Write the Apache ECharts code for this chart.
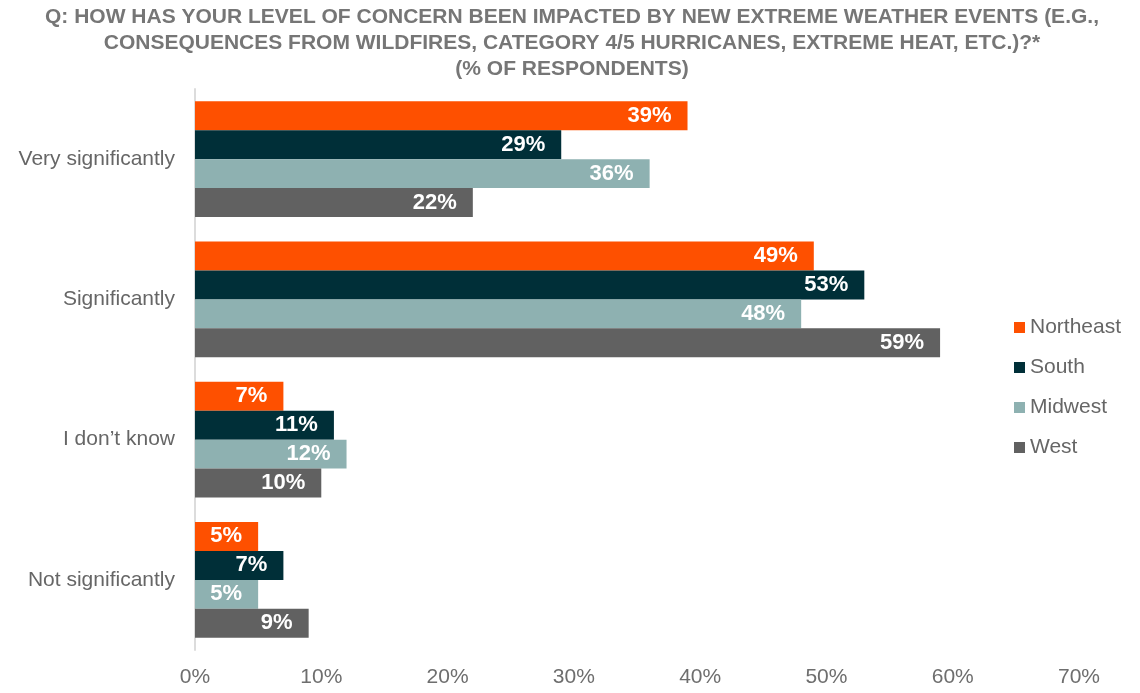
<!DOCTYPE html>
<html>
<head>
<meta charset="utf-8">
<title>Extreme weather concern by region</title>
<script src="https://cdn.jsdelivr.net/npm/echarts@6/dist/echarts.min.js"></script>
<style>
  html, body { margin: 0; padding: 0; background: #ffffff; }
  #chart { width: 1140px; height: 693px; }
</style>
</head>
<body>
<div id="chart"></div>
<script>
// Answer options (top to bottom)
const categories = ['Very significantly', 'Significantly', 'I don\u2019t know', 'Not significantly'];

// Share of respondents (%) per region
const northeast = [39, 49, 7, 5];
const south = [29, 53, 11, 7];
const midwest = [36, 48, 12, 5];
const west = [22, 59, 10, 9];

const regionNames = ['Northeast', 'South', 'Midwest', 'West'];
const regionColors = ['#FE5000', '#002F38', '#8EB1B1', '#616161'];
const regionValues = [northeast, south, midwest, west];

const titleText = 'Q: HOW HAS YOUR LEVEL OF CONCERN BEEN IMPACTED BY NEW EXTREME WEATHER EVENTS (E.G.,\n' +
  'CONSEQUENCES FROM WILDFIRES, CATEGORY 4/5 HURRICANES, EXTREME HEAT, ETC.)?*\n' +
  '(% OF RESPONDENTS)';

const FONT = '"Liberation Sans", Arial, Helvetica, sans-serif';

const chart = echarts.init(document.getElementById('chart'), null, { renderer: 'canvas' });

const series = regionNames.map((name, i) => ({
  name: name,
  type: 'bar',
  data: regionValues[i],
  barGap: '0%',
  barCategoryGap: '17.3%',
  itemStyle: { color: regionColors[i] },
  label: {
    show: true,
    position: 'insideRight',
    distance: 16,
    formatter: '{c}%',
    color: '#ffffff',
    fontFamily: FONT,
    fontWeight: 'bold',
    fontSize: 22
  },
  emphasis: { disabled: true }
}));

chart.setOption({
  animation: false,
  backgroundColor: '#ffffff',
  title: {
    text: titleText,
    left: 572,
    top: 4,
    padding: 0,
    textAlign: 'center',
    textStyle: {
      fontFamily: FONT,
      fontWeight: 'bold',
      fontSize: 21,
      lineHeight: 26,
      color: '#767676'
    }
  },
  legend: {
    orient: 'vertical',
    left: 1009,
    top: 312,
    itemWidth: 11,
    itemHeight: 11,
    itemGap: 19,
    icon: 'rect',
    data: regionNames,
    textStyle: {
      fontFamily: FONT,
      fontSize: 21,
      lineHeight: 21,
      color: '#666666'
    },
    selectedMode: false
  },
  grid: {
    left: 195,
    right: 61,
    top: 89,
    bottom: 43,
    containLabel: false
  },
  xAxis: {
    type: 'value',
    min: 0,
    max: 70,
    interval: 10,
    axisLine: { show: false },
    axisTick: { show: false },
    splitLine: { show: false },
    axisLabel: {
      formatter: '{value}%',
      fontFamily: FONT,
      fontSize: 21,
      color: '#6e6e6e',
      margin: 17
    }
  },
  yAxis: {
    type: 'category',
    data: categories,
    inverse: true,
    axisLine: { show: true, lineStyle: { color: '#dcdcdc', width: 2 } },
    axisTick: { show: false },
    axisLabel: {
      fontFamily: FONT,
      fontSize: 21,
      color: '#666666',
      margin: 20
    }
  },
  series: series
});
</script>
</body>
</html>
